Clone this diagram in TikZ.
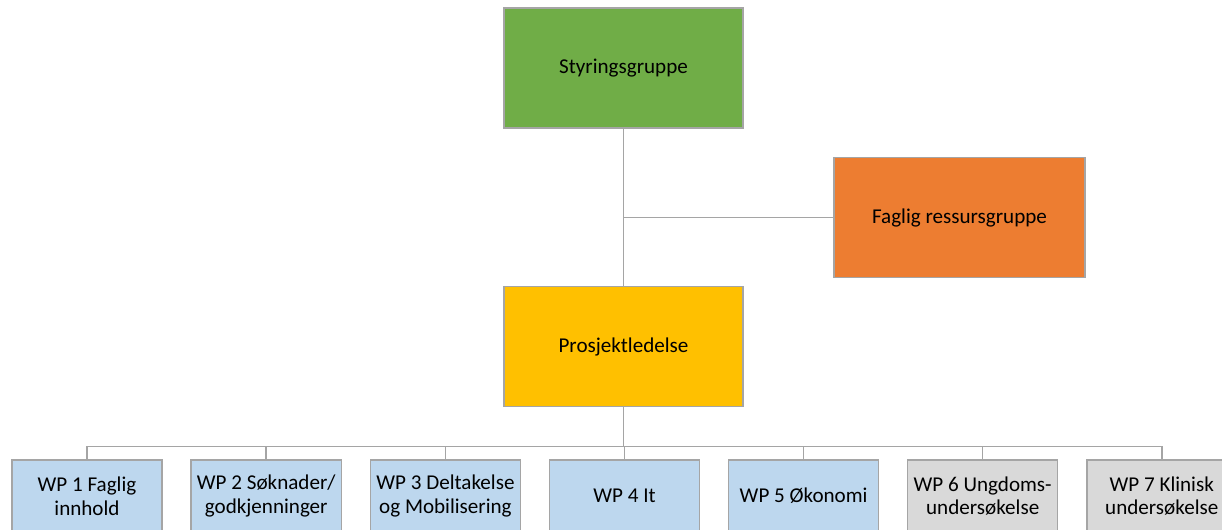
\documentclass[tikz,border=0pt]{standalone}
\usepackage{fontspec}
\setmainfont{Carlito}
\usepackage{tikz}
\usetikzlibrary{positioning}

\definecolor{linegray}{HTML}{A5A5A5}
\definecolor{styrgreen}{HTML}{70AD47}
\definecolor{fagorange}{HTML}{ED7D31}
\definecolor{prosjyellow}{HTML}{FFC000}
\definecolor{wpblue}{HTML}{BDD7EE}
\definecolor{wpgray}{HTML}{D9D9D9}

\begin{document}
\begin{tikzpicture}[
  node distance=0.55cm,
  every node/.style={font=\fontsize{12}{13.6}\selectfont},
  box/.style={rectangle, draw=linegray, line width=0.9pt, fill=#1,
    minimum width=4.78cm, minimum height=2.4cm, align=center},
  wp/.style={box=#1, minimum width=3cm, minimum height=1.44cm},
  conn/.style={draw=linegray, line width=0.9pt}
]
\path[use as bounding box, clip] (0,0) rectangle (24.44,-10.58);

% ---- TOP ----
\node[box=styrgreen] (styr) at (12.47,-1.36) {Styringsgruppe};
\node[box=fagorange, minimum width=5.02cm] (faglig) at (19.19,-4.35) {Faglig ressursgruppe};
\node[box=prosjyellow, below=3.14cm of styr] (prosj) {Prosjektledelse};

% ---- WORK PACKAGES ----
\node[wp=wpblue] (wp1) at (1.74,-9.92) {WP 1 Faglig\\innhold};
\node[wp=wpblue, right=of wp1] (wp2) {WP 2 Søknader/\\godkjenninger};
\node[wp=wpblue, right=of wp2] (wp3) {WP 3 Deltakelse\\og Mobilisering};
\node[wp=wpblue, right=of wp3] (wp4) {WP 4 It};
\node[wp=wpblue, right=of wp4] (wp5) {WP 5 Økonomi};
\node[wp=wpgray, right=of wp5] (wp6) {WP 6 Ungdoms-\\undersøkelse};
\node[wp=wpgray, right=of wp6] (wp7) {WP 7 Klinisk\\undersøkelse};

% ---- CONNECTORS ----
\draw[conn] (styr.south) -- (prosj.north);
\draw[conn] (faglig.west) -- (styr |- faglig.west);
\draw[conn] (prosj.south) -- ++(0,-0.78) -| (wp1.north);
\draw[conn] (prosj.south) -- ++(0,-0.78) -| (wp2.north);
\draw[conn] (prosj.south) -- ++(0,-0.78) -| (wp3.north);
\draw[conn] (prosj.south) -- ++(0,-0.78) -| (wp4.north);
\draw[conn] (prosj.south) -- ++(0,-0.78) -| (wp5.north);
\draw[conn] (prosj.south) -- ++(0,-0.78) -| (wp6.north);
\draw[conn] (prosj.south) -- ++(0,-0.78) -| (wp7.north);
\end{tikzpicture}
\end{document}
